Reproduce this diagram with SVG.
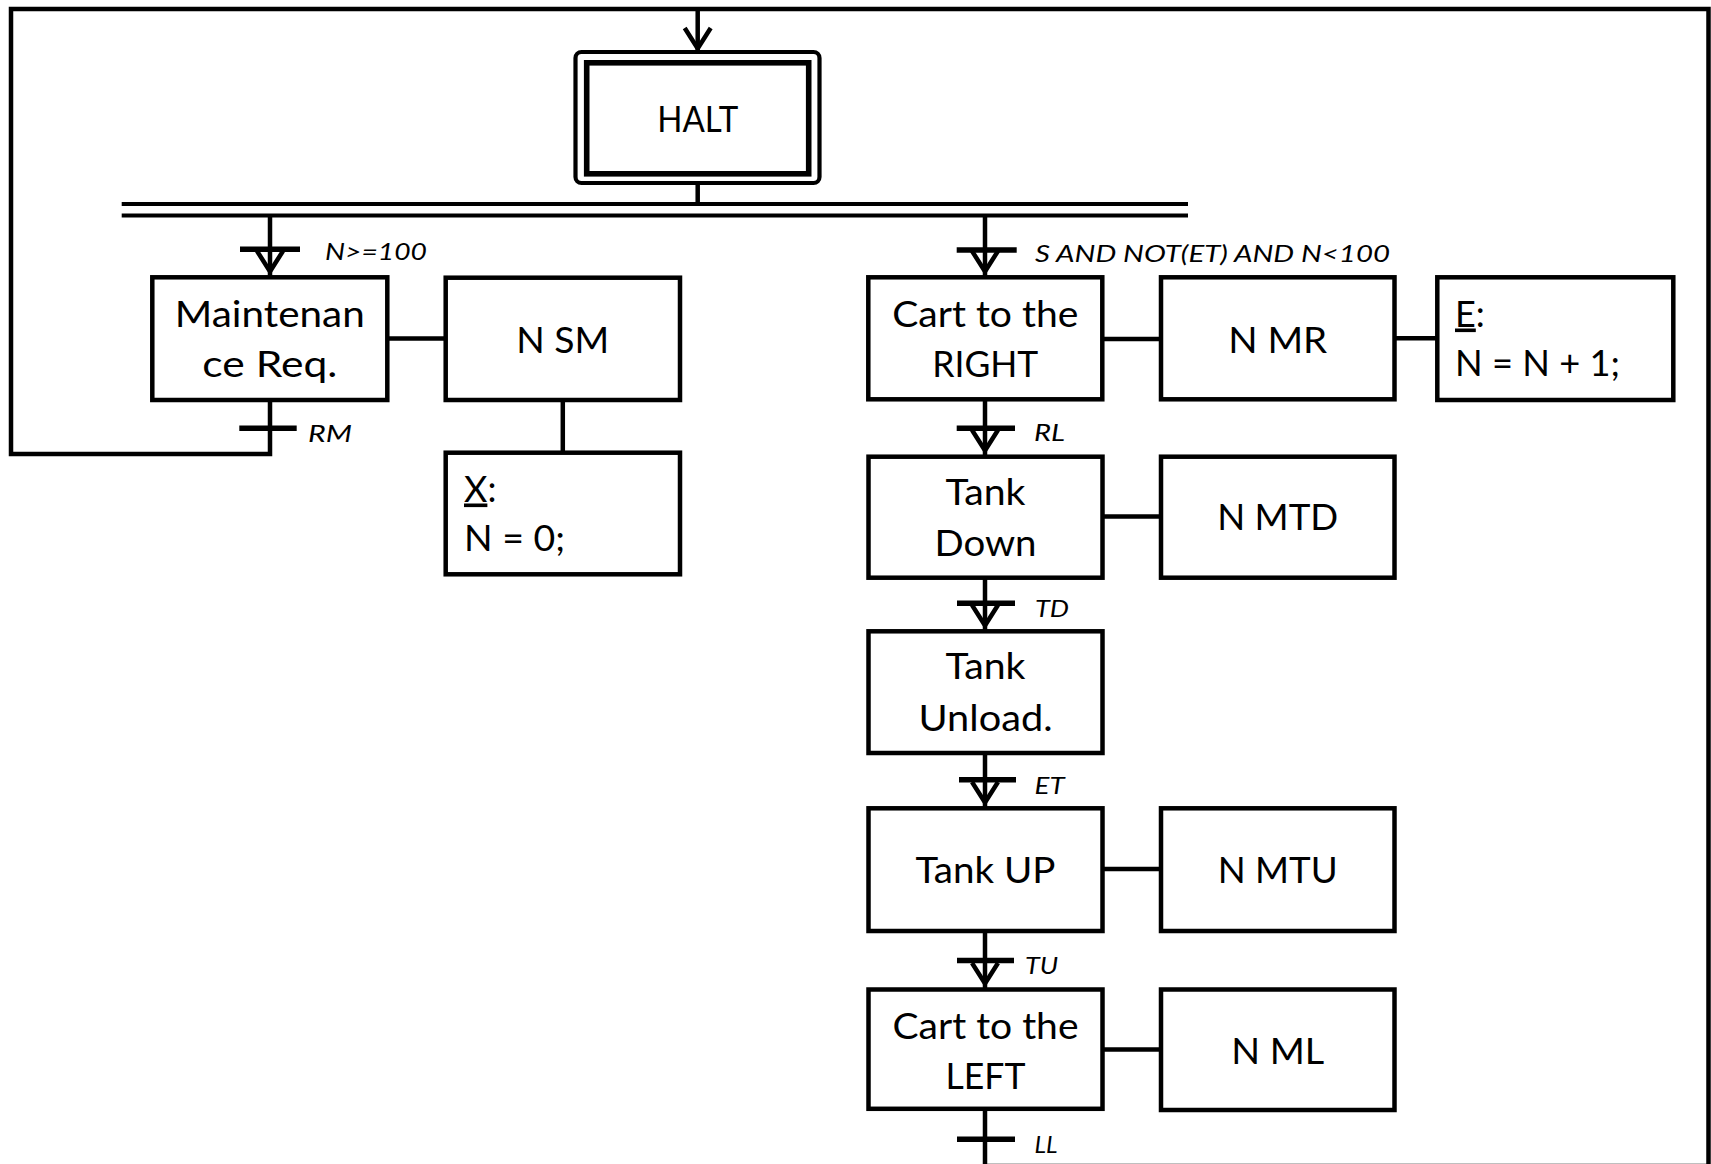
<svg xmlns="http://www.w3.org/2000/svg" width="1711" height="1164" viewBox="0 0 1711 1164">
<style>
.box{fill:#fff;stroke:#000;stroke-width:4.5}
.ln{fill:none;stroke:#000;stroke-width:4.5;stroke-linejoin:miter}
.tr{stroke:#000;stroke-width:5.5}
.dbl{stroke:#000;stroke-width:4.2}
.t{font-family:Lato,'Open Sans','Liberation Sans',sans-serif;font-size:36px;fill:#000}
.t2{font-family:Lato,'Open Sans','Liberation Sans',sans-serif;font-size:37px;fill:#000}
.lbl{font-family:Lato,'Open Sans','Liberation Sans',sans-serif;font-size:24px;font-style:italic;fill:#000}
</style>
<defs>
<marker id="arr" markerUnits="userSpaceOnUse" markerWidth="40" markerHeight="40" refX="0" refY="0" orient="auto" overflow="visible">
<path d="M-25,-13 L-4.5,0 L-25,13" fill="none" stroke="#000" stroke-width="4.5" stroke-linejoin="miter"/>
</marker>
</defs>
<rect width="1711" height="1164" fill="#fff"/>

<g id="connectors">
<path class="ln" d="M985,1108.8 V1166 H1708.5 V9 H11 V454 H270 V400"/>
<path class="ln" d="M697.7,9 V53" marker-end="url(#arr)"/>
<path class="ln" d="M697.7,183 V204"/>
<line class="dbl" x1="121.7" y1="204" x2="1188" y2="204"/>
<line class="dbl" x1="121.7" y1="215.5" x2="1188" y2="215.5"/>
<path class="ln" d="M270,215.5 V276" marker-end="url(#arr)"/>
<path class="ln" d="M985,215.5 V276" marker-end="url(#arr)"/>
<path class="ln" d="M985,399.3 V455" marker-end="url(#arr)"/>
<path class="ln" d="M985,577.7 V630" marker-end="url(#arr)"/>
<path class="ln" d="M985,753 V807" marker-end="url(#arr)"/>
<path class="ln" d="M985,931 V988" marker-end="url(#arr)"/>
<line class="ln" x1="387.3" y1="338.5" x2="445.7" y2="338.5"/>
<line class="ln" x1="562.8" y1="400" x2="562.8" y2="452.7"/>
<line class="ln" x1="1102.3" y1="339" x2="1161" y2="339"/>
<line class="ln" x1="1394.5" y1="338.3" x2="1437.3" y2="338.3"/>
<line class="ln" x1="1102.5" y1="516.6" x2="1161" y2="516.6"/>
<line class="ln" x1="1102.5" y1="869" x2="1161" y2="869"/>
<line class="ln" x1="1102.5" y1="1049.4" x2="1161" y2="1049.4"/>
</g>

<g id="transitions">
<g id="t-n100"><line class="tr" x1="240" y1="249.3" x2="300" y2="249.3"/><text class="lbl" x="325" y="259.5" textLength="102" lengthAdjust="spacingAndGlyphs">N&gt;=100</text></g>
<g id="t-rm"><line class="tr" x1="239.3" y1="428.3" x2="296.7" y2="428.3"/><text class="lbl" x="308" y="441.7" textLength="44" lengthAdjust="spacingAndGlyphs">RM</text></g>
<g id="t-s"><line class="tr" x1="956.7" y1="250" x2="1016.7" y2="250"/><text class="lbl" x="1035" y="262" textLength="355" lengthAdjust="spacingAndGlyphs">S AND NOT(ET) AND N&lt;100</text></g>
<g id="t-rl"><line class="tr" x1="956.7" y1="428.3" x2="1015" y2="428.3"/><text class="lbl" x="1034" y="440.7" textLength="31" lengthAdjust="spacingAndGlyphs">RL</text></g>
<g id="t-td"><line class="tr" x1="957" y1="603.2" x2="1015" y2="603.2"/><text class="lbl" x="1035" y="617.3" textLength="34" lengthAdjust="spacingAndGlyphs">TD</text></g>
<g id="t-et"><line class="tr" x1="959" y1="779.7" x2="1016" y2="779.7"/><text class="lbl" x="1034.5" y="794" textLength="30" lengthAdjust="spacingAndGlyphs">ET</text></g>
<g id="t-tu"><line class="tr" x1="957" y1="960.4" x2="1014" y2="960.4"/><text class="lbl" x="1025" y="974" textLength="33" lengthAdjust="spacingAndGlyphs">TU</text></g>
<g id="t-ll"><line class="tr" x1="957" y1="1139.3" x2="1015" y2="1139.3"/><text class="lbl" x="1034.5" y="1153.3" textLength="23" lengthAdjust="spacingAndGlyphs">LL</text></g>
</g>

<g id="halt">
<rect x="575.5" y="52" width="244" height="131" rx="6" fill="#fff" stroke="#000" stroke-width="4.2"/>
<rect x="586.7" y="62.8" width="222" height="111" fill="#fff" stroke="#000" stroke-width="5.6"/>
<text class="t" x="697.7" y="132" text-anchor="middle" textLength="81" lengthAdjust="spacingAndGlyphs" style="font-size:37px">HALT</text>
</g>

<g id="maintenance">
<rect class="box" x="152.3" y="277.3" width="235" height="122.7"/>
<text class="t" x="269.8" y="327" text-anchor="middle" textLength="190" lengthAdjust="spacingAndGlyphs">Maintenan</text>
<text class="t" x="269.8" y="377" text-anchor="middle" textLength="135" lengthAdjust="spacingAndGlyphs">ce Req.</text>
</g>
<g id="a-nsm">
<rect class="box" x="445.7" y="277.7" width="234.3" height="122.3"/>
<text class="t" x="562.8" y="352.7" text-anchor="middle" textLength="93" lengthAdjust="spacingAndGlyphs">N SM</text>
</g>
<g id="a-x">
<rect class="box" x="445.7" y="452.7" width="234.3" height="121.6"/>
<text class="t" x="464" y="501.5"><tspan text-decoration="underline">X</tspan>:</text>
<text class="t" x="464" y="550.7" textLength="101" lengthAdjust="spacingAndGlyphs">N = 0;</text>
</g>

<g id="cart-right">
<rect class="box" x="868.3" y="277.3" width="234" height="122"/>
<text class="t" x="985.3" y="327.3" text-anchor="middle" textLength="186" lengthAdjust="spacingAndGlyphs">Cart to the</text>
<text class="t" x="985.3" y="376.7" text-anchor="middle" textLength="106" lengthAdjust="spacingAndGlyphs">RIGHT</text>
</g>
<g id="a-nmr">
<rect class="box" x="1161" y="277.3" width="233.5" height="122"/>
<text class="t" x="1277.7" y="352.7" text-anchor="middle" textLength="99" lengthAdjust="spacingAndGlyphs">N MR</text>
</g>
<g id="a-e">
<rect class="box" x="1437.3" y="277.3" width="236" height="122.7"/>
<text class="t" x="1455" y="326.5"><tspan text-decoration="underline">E</tspan>:</text>
<text class="t" x="1455" y="376" textLength="165" lengthAdjust="spacingAndGlyphs">N = N + 1;</text>
</g>

<g id="tank-down">
<rect class="box" x="868.5" y="456.7" width="234" height="121"/>
<text class="t2" x="985.5" y="504.9" text-anchor="middle" textLength="80" lengthAdjust="spacingAndGlyphs">Tank</text>
<text class="t2" x="985.5" y="555.5" text-anchor="middle" textLength="102" lengthAdjust="spacingAndGlyphs">Down</text>
</g>
<g id="a-nmtd">
<rect class="box" x="1161" y="456.7" width="233.5" height="121"/>
<text class="t2" x="1277.7" y="529.7" text-anchor="middle" textLength="121" lengthAdjust="spacingAndGlyphs">N MTD</text>
</g>

<g id="tank-unload">
<rect class="box" x="868.5" y="631.3" width="234" height="121.7"/>
<text class="t2" x="985.5" y="679" text-anchor="middle" textLength="80" lengthAdjust="spacingAndGlyphs">Tank</text>
<text class="t2" x="985.5" y="731" text-anchor="middle" textLength="134" lengthAdjust="spacingAndGlyphs">Unload.</text>
</g>

<g id="tank-up">
<rect class="box" x="868.5" y="808.3" width="234" height="122.7"/>
<text class="t2" x="985.5" y="883.2" text-anchor="middle" textLength="140" lengthAdjust="spacingAndGlyphs">Tank UP</text>
</g>
<g id="a-nmtu">
<rect class="box" x="1161" y="808.3" width="233.5" height="122.7"/>
<text class="t2" x="1277.7" y="883" text-anchor="middle" textLength="120" lengthAdjust="spacingAndGlyphs">N MTU</text>
</g>

<g id="cart-left">
<rect class="box" x="868.5" y="989.5" width="234" height="119.3"/>
<text class="t2" x="985.5" y="1038.6" text-anchor="middle" textLength="186" lengthAdjust="spacingAndGlyphs">Cart to the</text>
<text class="t2" x="985.5" y="1089.2" text-anchor="middle" textLength="80" lengthAdjust="spacingAndGlyphs">LEFT</text>
</g>
<g id="a-nml">
<rect class="box" x="1161" y="989.5" width="233.5" height="120.5"/>
<text class="t2" x="1277.7" y="1064.4" text-anchor="middle" textLength="93" lengthAdjust="spacingAndGlyphs">N ML</text>
</g>
</svg>
